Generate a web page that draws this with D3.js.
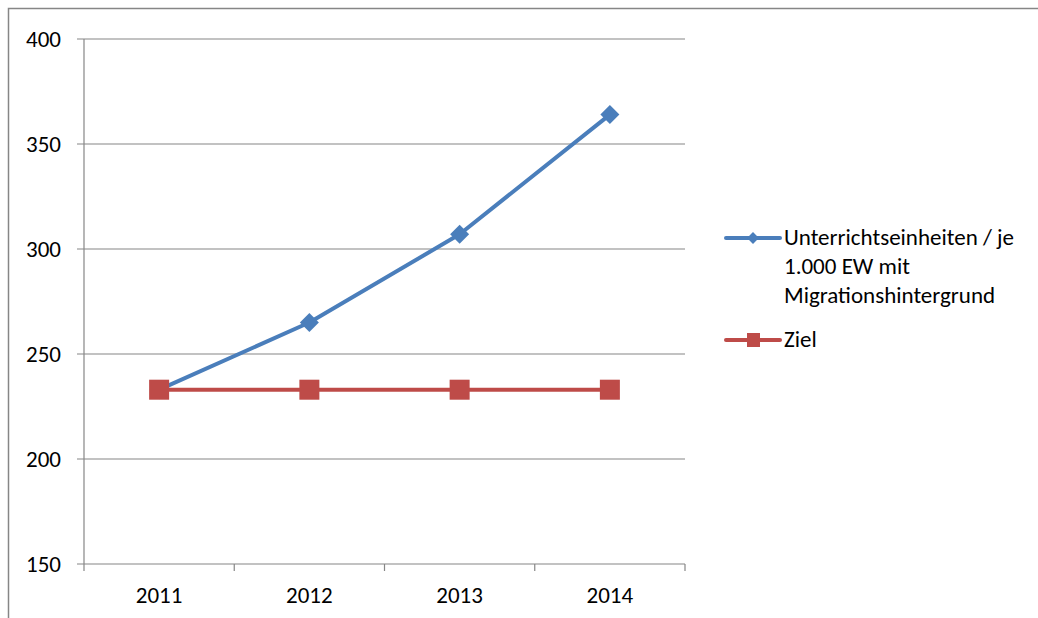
<!DOCTYPE html>
<html>
<head>
<meta charset="utf-8">
<script src="https://cdn.jsdelivr.net/npm/d3@7"></script>
<style>
  body { margin: 0; background: #fff; }
  text { font-family: Carlito, Calibri, "Open Sans", "Liberation Sans", sans-serif; fill: #000; }
</style>
</head>
<body>
<div id="chart"></div>
<script>
let years = ["2011", "2012", "2013", "2014"];
let unterricht = [233, 265, 307, 364];
let ziel = [233, 233, 233, 233];
let yTicks = [150, 200, 250, 300, 350, 400];
let seriesNames = ["Unterrichtseinheiten / je 1.000 EW mit Migrationshintergrund", "Ziel"];
let legendLines = [["Unterrichtseinheiten / je", "1.000 EW mit", "Migrationshintergrund"], ["Ziel"]];

let width = 1038, height = 618;
let blue = "#4a7ebb", red = "#be4b48", gridColor = "#868686";
let fontSize = 23;

let svg = d3.select("#chart").append("svg")
  .attr("width", width)
  .attr("height", height);

// outer chart frame
svg.append("rect")
  .attr("x", 8.5).attr("y", 8.5)
  .attr("width", 1100).attr("height", 700)
  .attr("fill", "none")
  .attr("stroke", gridColor)
  .attr("stroke-width", 1.5);

let plot = { left: 84, right: 685, top: 39, bottom: 564 };

let x = d3.scaleBand().domain(years).range([plot.left, plot.right]);
let y = d3.scaleLinear().domain([150, 400]).range([plot.bottom, plot.top]);

// gridlines + y labels
svg.append("g").selectAll("line")
  .data(yTicks).enter()
  .append("line")
  .attr("x1", plot.left - 7).attr("x2", plot.right)
  .attr("y1", d => y(d)).attr("y2", d => y(d))
  .attr("stroke", gridColor).attr("stroke-width", 1.2);

svg.append("g").selectAll("text")
  .data(yTicks).enter()
  .append("text")
  .attr("x", plot.left - 23)
  .attr("y", d => y(d) + 7.5)
  .attr("text-anchor", "end")
  .attr("font-size", fontSize)
  .text(d => d);

// y axis line
svg.append("line")
  .attr("x1", plot.left).attr("x2", plot.left)
  .attr("y1", plot.top).attr("y2", plot.bottom)
  .attr("stroke", gridColor).attr("stroke-width", 1.2);

// x ticks
let tickXs = years.map(d => x(d)).concat([plot.right]);
svg.append("g").selectAll("line")
  .data(tickXs).enter()
  .append("line")
  .attr("x1", d => d).attr("x2", d => d)
  .attr("y1", plot.bottom).attr("y2", plot.bottom + 7)
  .attr("stroke", gridColor).attr("stroke-width", 1.2);

svg.append("g").selectAll("text")
  .data(years).enter()
  .append("text")
  .attr("x", d => x(d) + x.bandwidth() / 2)
  .attr("y", plot.bottom + 39)
  .attr("text-anchor", "middle")
  .attr("font-size", fontSize)
  .text(d => d);

let line = d3.line()
  .x((d, i) => x(years[i]) + x.bandwidth() / 2)
  .y(d => y(d));

// Ziel series (drawn first)
svg.append("path")
  .datum(ziel)
  .attr("d", line)
  .attr("fill", "none")
  .attr("stroke", red)
  .attr("stroke-width", 4);

// blue series
svg.append("path")
  .datum(unterricht)
  .attr("d", line)
  .attr("fill", "none")
  .attr("stroke", blue)
  .attr("stroke-width", 4)
  .attr("stroke-linejoin", "round");

svg.append("g").selectAll("path")
  .data(unterricht).enter()
  .append("path")
  .attr("d", d3.symbol().type(d3.symbolSquare).size(180))
  .attr("transform", (d, i) => "translate(" + (x(years[i]) + x.bandwidth() / 2) + "," + y(d) + ") rotate(45)")
  .attr("fill", blue);

svg.append("g").selectAll("rect")
  .data(ziel).enter()
  .append("rect")
  .attr("x", (d, i) => x(years[i]) + x.bandwidth() / 2 - 10)
  .attr("y", d => y(d) - 10)
  .attr("width", 20).attr("height", 20)
  .attr("fill", red);

// legend
let legend = svg.append("g");
let legendY = [238, 340];
let legendColors = [blue, red];

legendLines.forEach((lines, k) => {
  let ly = legendY[k];
  legend.append("line")
    .attr("x1", 726).attr("x2", 780)
    .attr("y1", ly).attr("y2", ly)
    .attr("stroke", legendColors[k]).attr("stroke-width", 4)
    .attr("stroke-linecap", "round");
  if (k == 0) {
    legend.append("path")
      .attr("d", d3.symbol().type(d3.symbolSquare).size(70))
      .attr("transform", "translate(753," + ly + ") rotate(45)")
      .attr("fill", blue);
  } else {
    legend.append("rect")
      .attr("x", 747).attr("y", ly - 7)
      .attr("width", 13).attr("height", 14)
      .attr("fill", red);
  }
  let t = legend.append("text")
    .attr("x", 784).attr("y", ly + 7)
    .attr("font-size", fontSize);
  lines.forEach((s, j) => {
    t.append("tspan")
      .attr("x", 784)
      .attr("dy", j == 0 ? 0 : 29)
      .text(s);
  });
});
</script>
</body>
</html>
